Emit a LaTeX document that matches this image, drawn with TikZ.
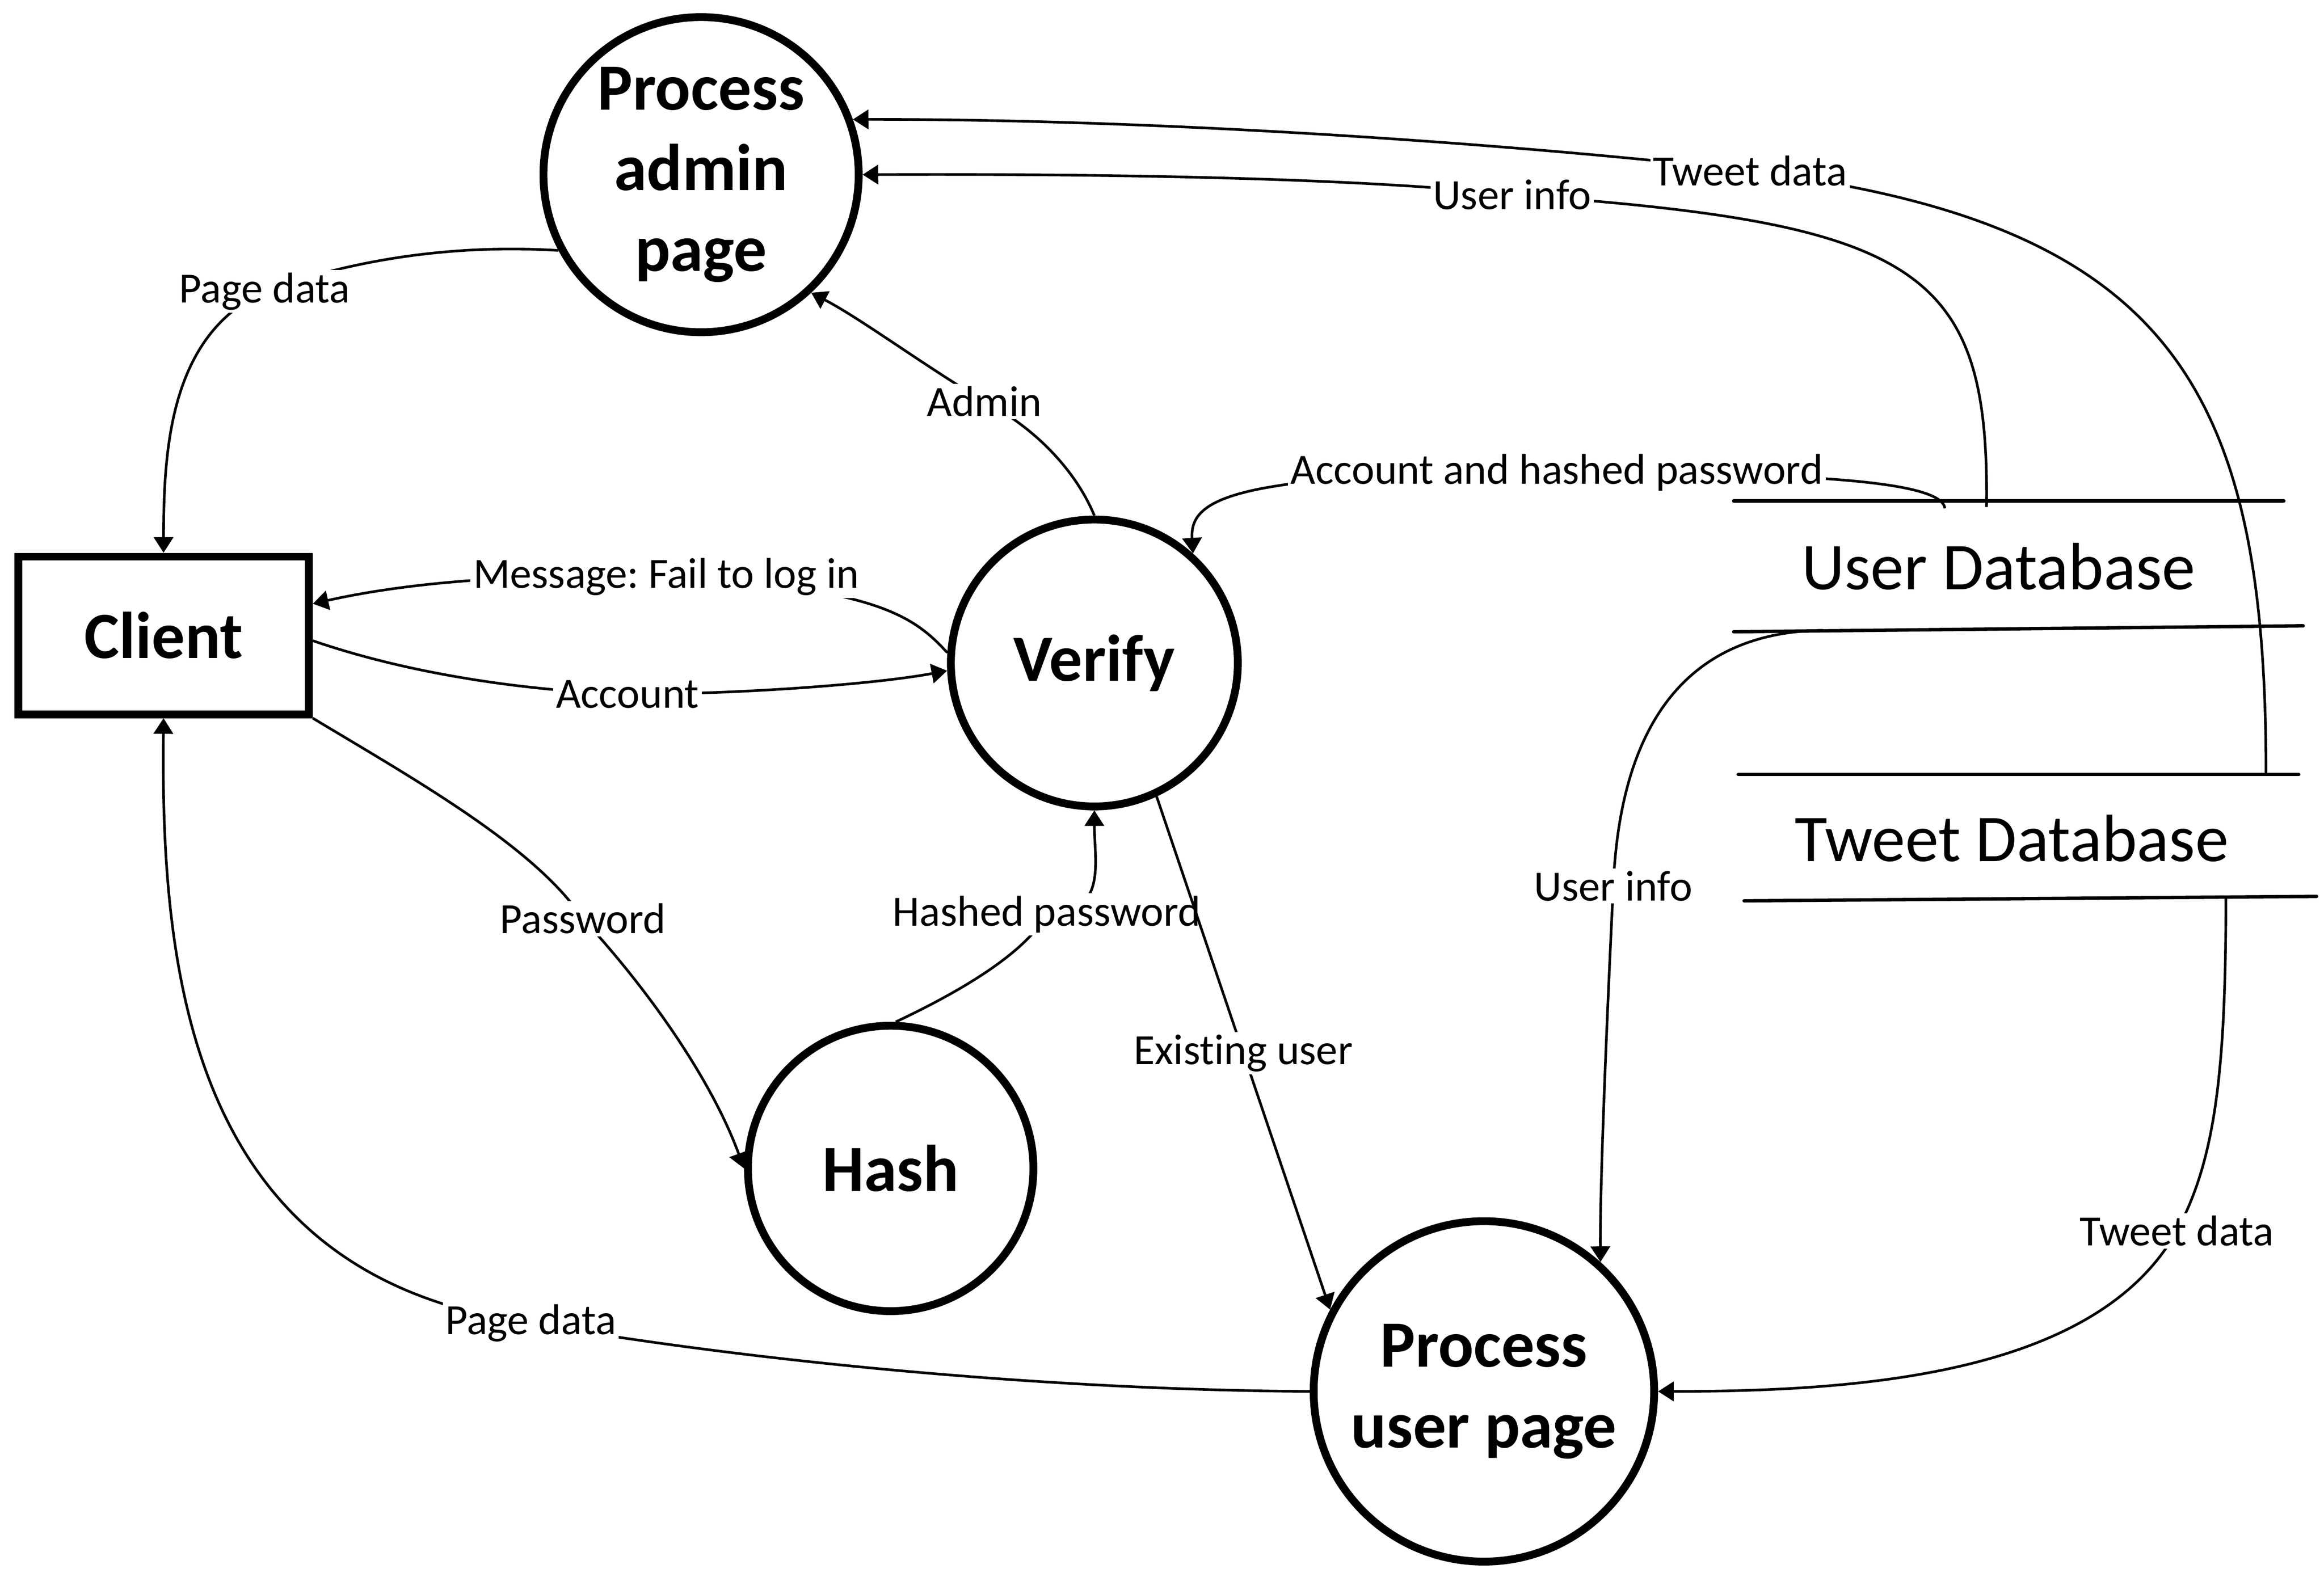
\documentclass[tikz,border=0pt]{standalone}
\usepackage{fontspec}
\setmainfont{Carlito}[Ligatures = NoCommon]
\usetikzlibrary{arrows.meta}
\frenchspacing

\begin{document}
\begin{tikzpicture}[
        process/.style = {draw, circle, line width = 3pt, inner sep = 0pt, align = center,
            font = \bfseries\fontsize{25.3}{30.9}\selectfont},
        entity/.style = {draw, rectangle, line width = 3pt, minimum width = 3.91cm, minimum height = 2.12cm,
            font = \bfseries\fontsize{25.3}{30.9}\selectfont},
        storetext/.style = {font = \fontsize{25.6}{30}\selectfont},
        storeline/.style = {line width = 1.3pt, line cap = round},
        flow/.style = {-{Triangle[length = 0.21cm, width = 0.26cm]}, line width = 1pt},
        lbl/.style = {fill = white, inner sep = 1pt, font = \fontsize{16.5}{19}\selectfont}
    ]
        \useasboundingbox (0, 0) rectangle (31.26, 21.16);

        % Nodes
        \node [process, minimum size = 4.24cm] (admin) at (9.43, 18.81) {Process\\admin\\page};
        \node [entity] (client) at (2.20, 12.61) {Client};
        \node [process, minimum size = 3.86cm] (verify) at (14.72, 12.24) {Verify};
        \node [process, minimum size = 3.84cm] (hash) at (11.98, 5.44) {Hash};
        \node [process, minimum size = 4.58cm] (userpage) at (19.96, 2.44) {Process\\user page};

        % Data stores
        \node [storetext] (userdb) at (26.88, 13.54) {User Database};
        \draw [storeline] (23.32, 14.42) -- (30.72, 14.42);
        \draw [storeline] (23.32, 12.66) -- (30.98, 12.74);
        \node [storetext] (tweetdb) at (27.06, 9.88) {Tweet Database};
        \draw [storeline] (23.38, 10.74) -- (30.92, 10.74);
        \draw [storeline] (23.46, 9.04) -- (31.16, 9.10);

        \coordinate (udbA) at (26.72, 14.34);
        \coordinate (udbB) at (26.16, 14.32);
        \coordinate (udbC) at (24.52, 12.68);
        \coordinate (tdbA) at (30.48, 10.74);
        \coordinate (tdbB) at (29.94, 9.11);

        % Data flows
        \draw [flow] (tdbA) .. controls (30.48, 15.96) and (29.20, 18.16) .. (23.54, 18.86) node [lbl] (l1) {Tweet data}
            .. controls (21.00, 19.16) and (16.00, 19.56) .. (admin.20);
        \draw [flow] (udbA) .. controls (26.76, 17.56) and (25.80, 18.16) .. (20.34, 18.54) node [lbl] (l2) {User info}
            .. controls (18.00, 18.80) and (14.00, 18.82) .. (admin.0);
        \draw [flow] (udbB) .. controls (26.12, 14.72) and (24.00, 14.80) .. (20.94, 14.80) node [lbl] (l3) {Account and hashed password}
            .. controls (16.60, 14.80) and (16.00, 14.46) .. (verify.48);
        \draw [flow] (udbC) .. controls (22.80, 12.66) and (21.80, 11.56) .. (21.70, 9.24) node [lbl] (l4) {User info}
            .. controls (21.60, 7.16) and (21.52, 5.16) .. (userpage.48);
        \draw [flow] (tdbB) .. controls (29.94, 6.76) and (29.80, 5.56) .. (29.28, 4.60) node [lbl] (l5) {Tweet data}
            .. controls (28.20, 2.66) and (25.00, 2.44) .. (userpage.0);
        \draw [flow] (userpage.180) .. controls (14.00, 2.46) and (10.00, 2.86) .. (7.14, 3.36) node [lbl] (l6) {Page data}
            .. controls (2.60, 3.96) and (2.16, 7.96) .. (client.south);
        \draw [flow] (admin.208) .. controls (6.40, 17.86) and (5.00, 17.76) .. (3.56, 17.24) node [lbl] (l7) {Page data}
            .. controls (2.30, 16.66) and (2.20, 15.16) .. (client.north);
        \draw [flow] (verify.90) .. controls (14.50, 14.76) and (14.00, 15.36) .. (13.24, 15.76) node [lbl] (l8) {Admin}
            .. controls (12.40, 16.26) and (11.60, 16.86) .. (admin.-47);
        \draw [flow] (verify.176) .. controls (12.30, 12.86) and (11.80, 13.26) .. (8.96, 13.40) node [lbl] (l9) {Message: Fail to log in}
            .. controls (6.60, 13.46) and (5.20, 13.26) .. (client.12);
        \draw [flow] (client.-2) .. controls (5.60, 12.06) and (7.20, 11.86) .. (8.44, 11.82) node [lbl] (l10) {Account}
            .. controls (10.00, 11.82) and (11.80, 11.96) .. (verify.183);
        \draw [flow] (client.south east) .. controls (5.60, 10.66) and (7.20, 9.76) .. (7.84, 8.80) node [lbl] (l11) {Password}
            .. controls (8.80, 7.76) and (9.60, 6.56) .. (hash.180);
        \draw [flow] (hash.88) .. controls (13.00, 7.86) and (13.80, 8.36) .. (14.08, 8.86) node [lbl] (l12) {Hashed password}
            .. controls (14.90, 8.86) and (14.72, 9.56) .. (verify.-90);
        \draw [flow] (verify.-65) -- node [lbl] (l13) {Existing user} (userpage.152);

    \end{tikzpicture}
\end{document}
